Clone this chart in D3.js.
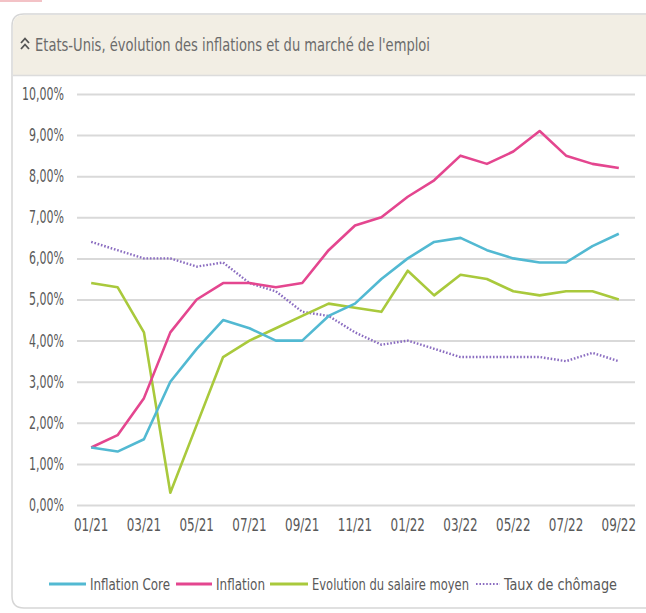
<!DOCTYPE html>
<html>
<head>
<meta charset="utf-8">
<script src="https://cdn.jsdelivr.net/npm/d3@7"></script>
<style>
  body { margin: 0; background: #fff; }
  text { font-family: "DejaVu Sans Condensed", "Liberation Sans Narrow", sans-serif; }
</style>
</head>
<body>
<div id="chart"></div>
<script>
// months and tick labels
var months = ["01/21","02/21","03/21","04/21","05/21","06/21","07/21","08/21","09/21","10/21","11/21","12/21",
              "01/22","02/22","03/22","04/22","05/22","06/22","07/22","08/22","09/22"];
var tickLabels = ["01/21","03/21","05/21","07/21","09/21","11/21","01/22","03/22","05/22","07/22","09/22"];
var yTicks = [0,1,2,3,4,5,6,7,8,9,10];

// series values (%)
var inflationCore = [1.4,1.3,1.6,3.0,3.8,4.5,4.3,4.0,4.0,4.6,4.9,5.5,6.0,6.4,6.5,6.2,6.0,5.9,5.9,6.3,6.6];
var inflation     = [1.4,1.7,2.6,4.2,5.0,5.4,5.4,5.3,5.4,6.2,6.8,7.0,7.5,7.9,8.5,8.3,8.6,9.1,8.5,8.3,8.2];
var salaire       = [5.4,5.3,4.2,0.3,1.95,3.6,4.0,4.3,4.6,4.9,4.8,4.7,5.7,5.1,5.6,5.5,5.2,5.1,5.2,5.2,5.0];
var chomage       = [6.4,6.2,6.0,6.0,5.8,5.9,5.4,5.2,4.7,4.6,4.2,3.9,4.0,3.8,3.6,3.6,3.6,3.6,3.5,3.7,3.5];

var series = [
  {name: "Inflation Core", values: inflationCore, color: "#52b9d2", dash: null},
  {name: "Inflation", values: inflation, color: "#e4468f", dash: null},
  {name: "Evolution du salaire moyen", values: salaire, color: "#a9c93c", dash: null},
  {name: "Taux de chômage", values: chomage, color: "#8a6cc0", dash: "1.6,1.8"}
];

var w = 646, h = 613;
var svg = d3.select("#chart").append("svg").attr("width", w).attr("height", h);

// squeeze text horizontally (the source font is a narrow one)
function squeeze(sel, factor) {
  sel.each(function() {
    var len = this.getComputedTextLength();
    d3.select(this).attr("textLength", len * factor).attr("lengthAdjust", "spacingAndGlyphs");
  });
}

// card frame
svg.append("rect").attr("x", 0).attr("y", 0).attr("width", 42).attr("height", 2).attr("fill", "#f3c2c6");
svg.append("path")
  .attr("d", "M660,14 L24,14 Q12,14 12,26 L12,596 Q12,608 24,608 L660,608")
  .attr("fill", "#fff").attr("stroke", "#d6d6d6").attr("stroke-width", 1.5);
svg.append("path")
  .attr("d", "M660,15 L24,15 Q13,15 13,26 L13,75 L660,75 Z")
  .attr("fill", "#f2eee4");
svg.append("line").attr("x1", 13).attr("x2", 660).attr("y1", 75.5).attr("y2", 75.5)
  .attr("stroke", "#dcdcdc").attr("stroke-width", 1.5);

// title with double chevron
var chev = svg.append("g").attr("fill", "none").attr("stroke", "#555").attr("stroke-width", 1.8);
chev.append("path").attr("d", "M21,43 L25,38.5 L29,43");
chev.append("path").attr("d", "M21,49 L25,44.5 L29,49");
svg.append("text").attr("x", 35).attr("y", 51)
  .attr("font-size", 18).attr("fill", "#6b6b6b")
  .attr("textLength", 395).attr("lengthAdjust", "spacingAndGlyphs")
  .text("Etats-Unis, évolution des inflations et du marché de l'emploi");

// scales
var x = d3.scaleBand().domain(months).range([78, 632]);
var y = d3.scaleLinear().domain([0, 10]).range([505, 94]);
var cx = function(m) { return x(m) + x.bandwidth() / 2; };

// y gridlines + labels
var yAxis = d3.axisLeft(y).tickValues(yTicks).tickSize(-(635 - 77))
  .tickFormat(function(d) { return d3.format(".2f")(d).replace(".", ",") + "%"; });
var gy = svg.append("g").attr("transform", "translate(77,0)").call(yAxis);
gy.select(".domain").remove();
gy.selectAll(".tick line").attr("stroke", "#d9d9d9").attr("stroke-width", 2);
gy.selectAll(".tick text").attr("x", -13).attr("font-size", 17).attr("fill", "#595959");
squeeze(gy.selectAll(".tick text"), 0.72);

// x labels
var xAxis = d3.axisBottom(x).tickValues(tickLabels).tickSize(0);
var gx = svg.append("g").attr("transform", "translate(0,514)").call(xAxis);
gx.select(".domain").remove();
gx.selectAll(".tick text").attr("font-size", 17).attr("fill", "#595959").attr("dy", "0.85em");
squeeze(gx.selectAll(".tick text"), 0.78);

// lines
var line = d3.line()
  .x(function(d, i) { return cx(months[i]); })
  .y(function(d) { return y(d); });

series.slice().reverse().forEach(function(s) {
  svg.append("path")
    .datum(s.values)
    .attr("d", line)
    .attr("fill", "none")
    .attr("stroke", s.color)
    .attr("stroke-width", s.dash ? 2.4 : 2.6)
    .attr("stroke-linejoin", "round")
    .attr("stroke-dasharray", s.dash);
});

// legend
var legX = [49, 176, 270, 476];
var legLine = [37, 36, 38, 24];
var legText = [80, 49, 157, 113];
var leg = svg.append("g").attr("transform", "translate(0,584)");
series.forEach(function(s, i) {
  var g = leg.append("g").attr("transform", "translate(" + legX[i] + ",0)");
  g.append("line").attr("x1", 0).attr("x2", legLine[i]).attr("y1", 0).attr("y2", 0)
    .attr("stroke", s.color).attr("stroke-width", s.dash ? 2.2 : 2.8)
    .attr("stroke-dasharray", s.dash);
  g.append("text").attr("x", legLine[i] + 4).attr("y", 6).attr("font-size", 16.5).attr("fill", "#595959")
    .attr("textLength", legText[i]).attr("lengthAdjust", "spacingAndGlyphs")
    .text(s.name);
});
</script>
</body>
</html>
